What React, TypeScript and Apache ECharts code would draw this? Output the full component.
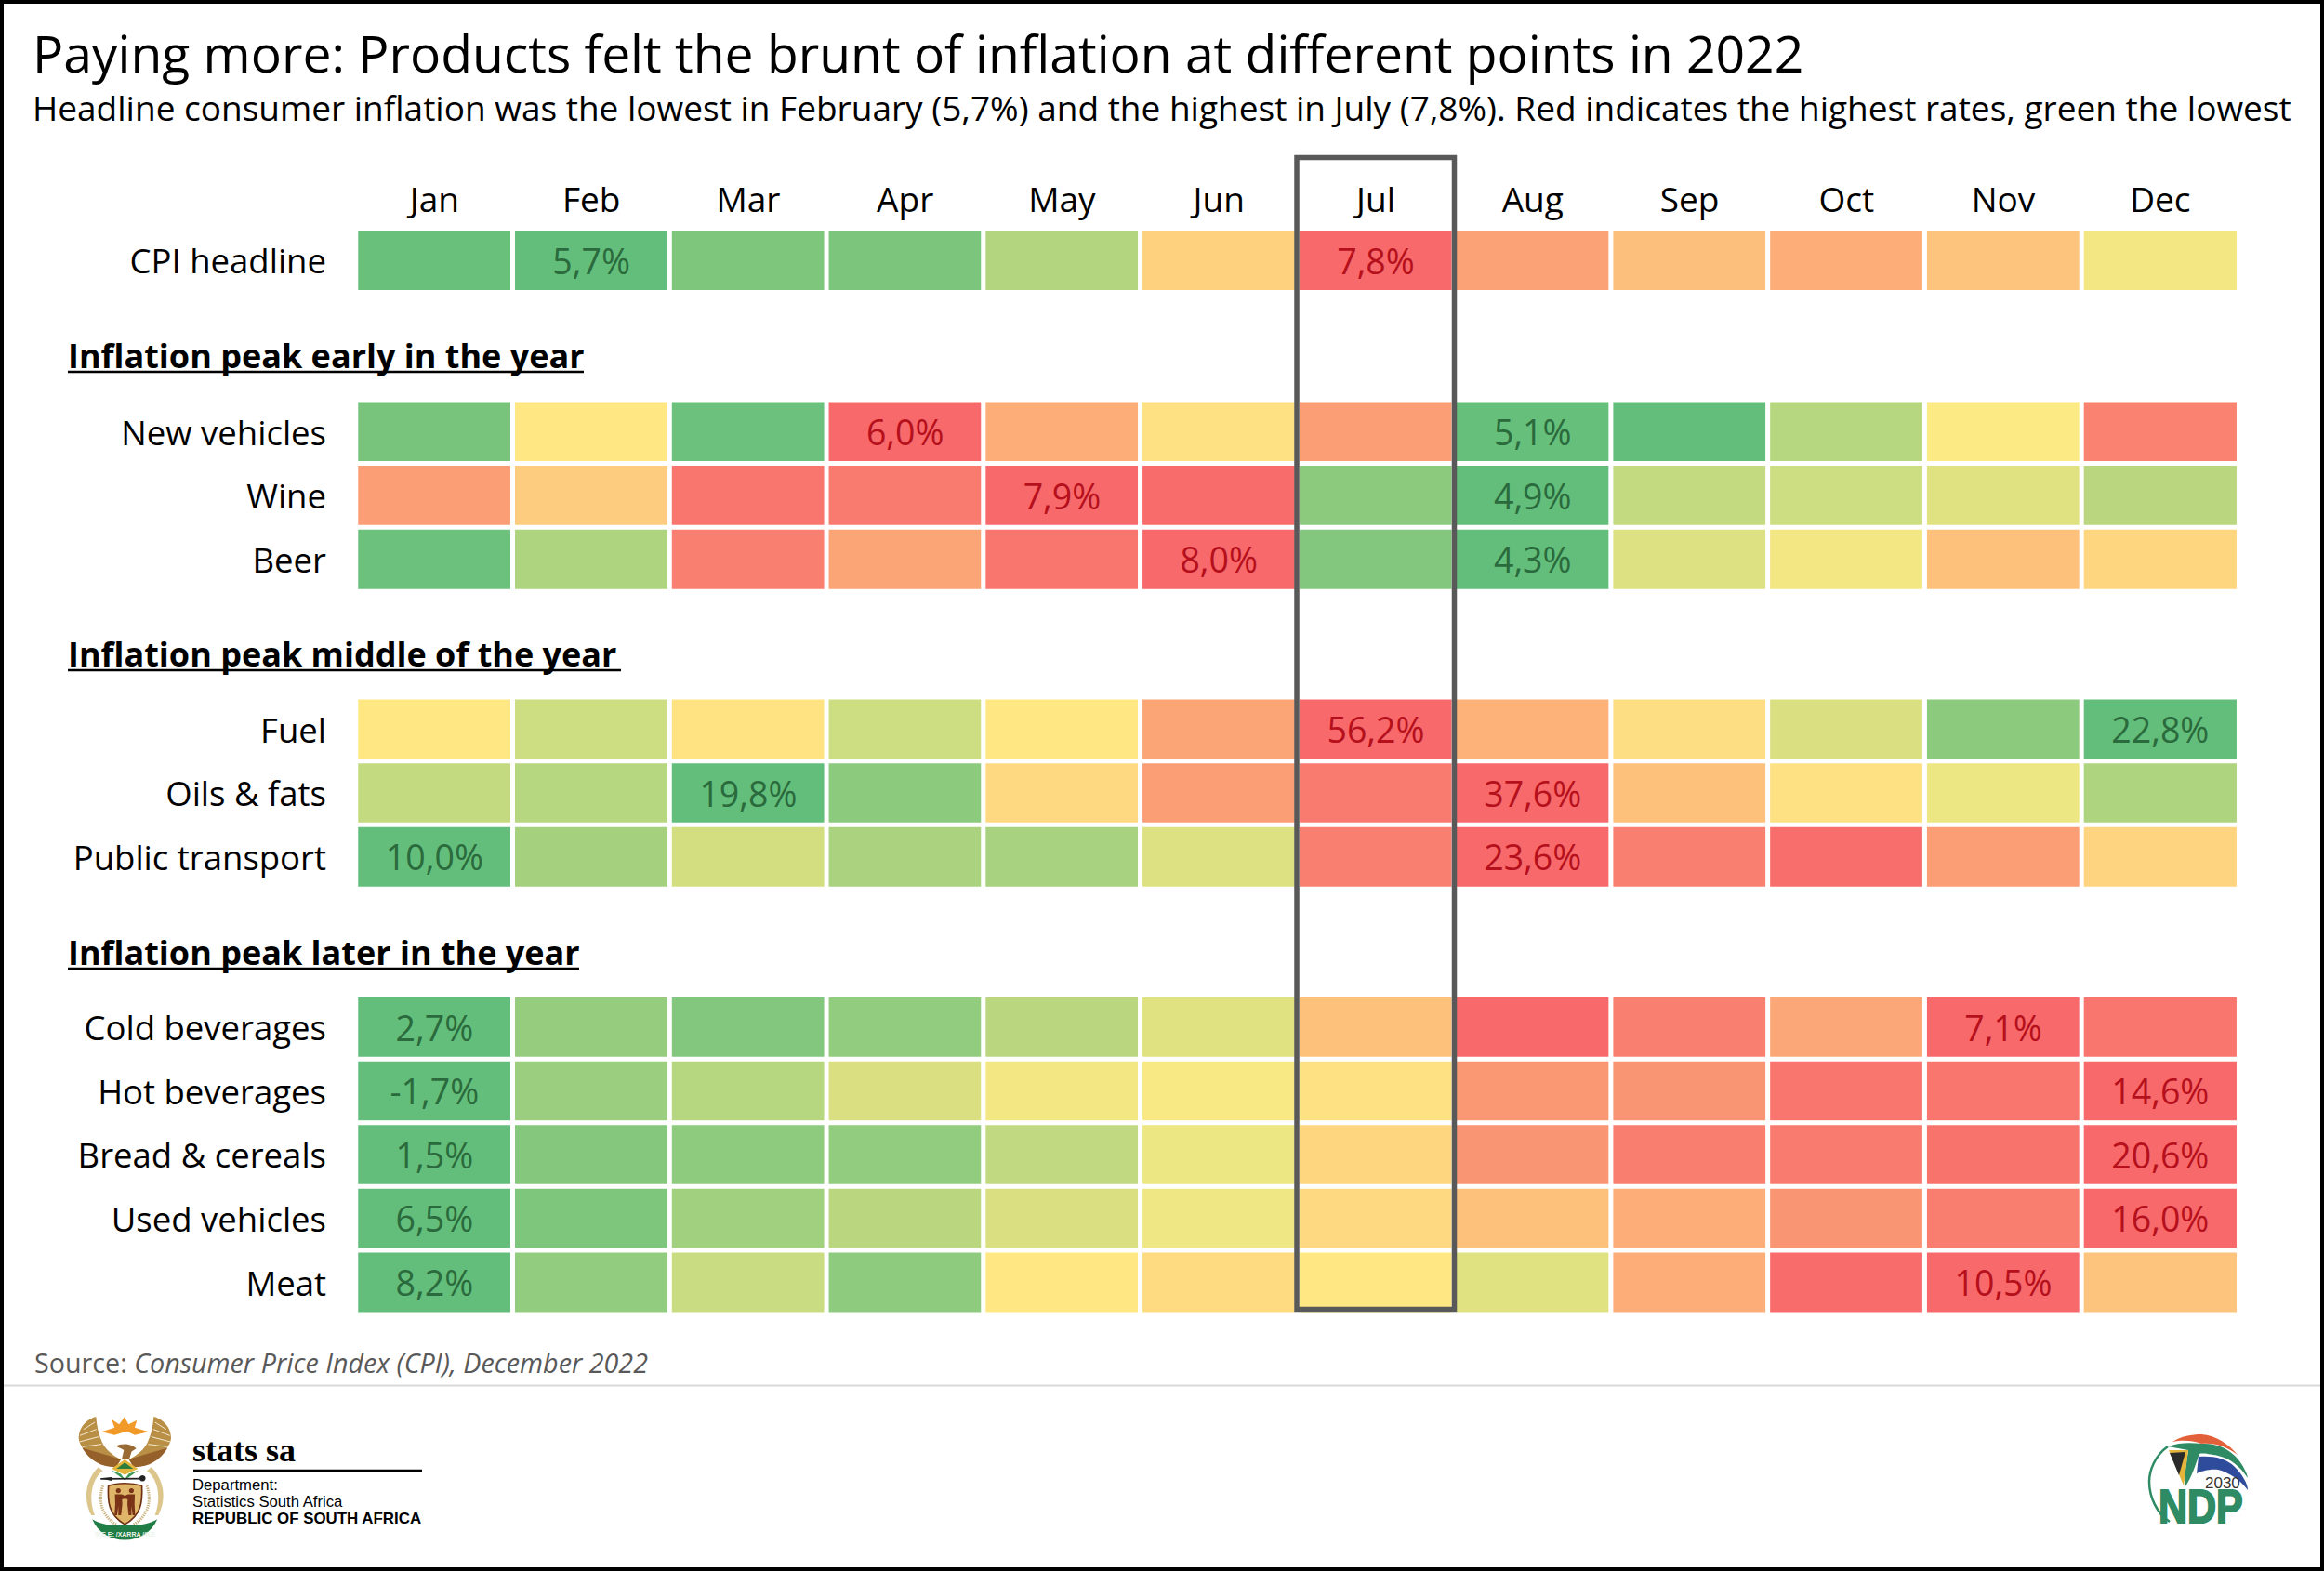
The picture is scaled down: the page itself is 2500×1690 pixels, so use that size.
import React, { useEffect, useRef } from "react";
import * as echarts from "echarts";

const months = ["Jan", "Feb", "Mar", "Apr", "May", "Jun", "Jul", "Aug", "Sep", "Oct", "Nov", "Dec"];

// Colour position of each cell: 0 = lowest of the row (green), 100 = highest (red)
const cpiHeadline = [2, 0, 9, 8, 26, 60, 100, 78, 67, 74, 65, 46];
const newVehicles = [7, 51, 3, 100, 74, 54, 80, 1, 0, 27, 49, 90];
const wine = [80, 62, 95, 93, 100, 99, 13, 0, 31, 34, 40, 28];
const beer = [3, 24, 91, 77, 95, 100, 10, 0, 39, 46, 66, 58];
const fuel = [51, 34, 53, 34, 51, 77, 100, 72, 55, 38, 13, 0];
const oilsFats = [31, 27, 0, 13, 57, 80, 93, 100, 66, 54, 44, 24];
const publicTransport = [0, 21, 36, 23, 22, 39, 91, 100, 91, 98, 80, 59];
const coldBeverages = [0, 16, 10, 15, 28, 40, 66, 100, 91, 76, 100, 95];
const hotBeverages = [0, 18, 27, 38, 46, 48, 54, 82, 83, 95, 95, 100];
const breadCereals = [0, 11, 14, 15, 30, 44, 58, 83, 92, 93, 96, 100];
const usedVehicles = [0, 9, 20, 28, 38, 45, 57, 66, 74, 83, 92, 100];
const meat = [0, 15, 33, 14, 51, 56, 51, 40, 74, 99, 100, 65];

// Printed rates
const cpiHeadlineText = ["", "5,7%", "", "", "", "", "7,8%", "", "", "", "", ""];
const newVehiclesText = ["", "", "", "6,0%", "", "", "", "5,1%", "", "", "", ""];
const wineText = ["", "", "", "", "7,9%", "", "", "4,9%", "", "", "", ""];
const beerText = ["", "", "", "", "", "8,0%", "", "4,3%", "", "", "", ""];
const fuelText = ["", "", "", "", "", "", "56,2%", "", "", "", "", "22,8%"];
const oilsFatsText = ["", "", "19,8%", "", "", "", "", "37,6%", "", "", "", ""];
const publicTransportText = ["10,0%", "", "", "", "", "", "", "23,6%", "", "", "", ""];
const coldBeveragesText = ["2,7%", "", "", "", "", "", "", "", "", "", "7,1%", ""];
const hotBeveragesText = ["-1,7%", "", "", "", "", "", "", "", "", "", "", "14,6%"];
const breadCerealsText = ["1,5%", "", "", "", "", "", "", "", "", "", "", "20,6%"];
const usedVehiclesText = ["6,5%", "", "", "", "", "", "", "", "", "", "", "16,0%"];
const meatText = ["8,2%", "", "", "", "", "", "", "", "", "", "10,5%", ""];

const groups = [
  { rows: ["CPI headline"], heat: [cpiHeadline], text: [cpiHeadlineText], top: 245.7 },
  { rows: ["New vehicles", "Wine", "Beer"], heat: [newVehicles, wine, beer], text: [newVehiclesText, wineText, beerText], top: 430.2 },
  { rows: ["Fuel", "Oils & fats", "Public transport"], heat: [fuel, oilsFats, publicTransport], text: [fuelText, oilsFatsText, publicTransportText], top: 750.3 },
  {
    rows: ["Cold beverages", "Hot beverages", "Bread & cereals", "Used vehicles", "Meat"],
    heat: [coldBeverages, hotBeverages, breadCereals, usedVehicles, meat],
    text: [coldBeveragesText, hotBeveragesText, breadCerealsText, usedVehiclesText, meatText],
    top: 1070.8,
  },
];

const headings = [
  { text: "Inflation peak early in the year", y: 382, end: 628 },
  { text: "Inflation peak middle of the year", y: 703, end: 668 },
  { text: "Inflation peak later in the year", y: 1024, end: 623 },
];

const FONT = '"Open Sans", "Noto Sans", sans-serif';
const ROW_H = 68.6;
const GRID_LEFT = 383;
const GRID_W = 2025.2;

const logoPaths: Record<string, string> = {
  // Coat of arms, drawn at three times its size
  tusk: "M108 190 C70 225 55 290 85 345 L96 345 C75 290 85 230 122 202 Z",
  wing: "M100 27 C70 35 45 60 44 95 C45 120 70 150 115 170 L165 190 L180 165 C150 150 130 130 120 110 C108 85 102 55 100 27 Z",
  wingLow: "M55 128 C80 170 120 192 165 190 L180 165 C140 152 100 142 55 128 Z",
  feathers: "M96 45 L60 68 M101 68 L48 88 M108 92 L47 108 M118 116 L57 124",
  sun: "M118 76 L160 62 L150 35 L175 52 L192 28 L205 52 L232 38 L225 62 L270 76 L225 86 L200 74 L160 86 Z",
  bird: "M165 122 C180 112 215 112 230 130 L215 140 L207 165 L183 165 L190 135 C180 128 170 125 165 122 Z",
  diamond: "M193 165 L235 195 L193 215 L150 195 Z",
  diamondIn: "M193 175 L220 195 L166 195 Z",
  leaves: "M148 200 L193 232 L238 200 L205 212 L193 230 L180 212 Z",
  spearTip: "M113 226 L150 222 L150 234 Z M250 216 A10 10 0 1 0 250.1 216 Z",
  wheat: "M122 250 C105 300 120 350 165 375",
  shield: "M140 250 C170 240 215 240 248 250 C250 300 248 345 193 375 C140 345 137 300 140 250 Z",
  person: "M172 258 A8 8 0 1 0 172.1 258 Z M161 278 L183 278 L206 288 L204 294 L184 290 L185 310 L181 345 L172 345 L172 316 L168 345 L160 345 L162 310 Z",
  band: "M88 358 C115 375 150 380 193 378 C240 380 275 372 298 358 C280 400 240 425 193 425 C145 425 105 400 88 358 Z",
  // NDP logo
  ndpRed: "M2337 1551 C2346 1545 2358 1543 2368 1543 C2384 1544 2398 1554 2407 1565 C2394 1556 2384 1552 2368 1553 C2358 1549 2346 1549 2337 1551 Z",
  ndpGreen: "M2332 1556 C2346 1551 2358 1552 2368 1553 C2384 1552 2396 1558 2404 1566 C2412 1574 2417 1584 2418 1590 C2410 1578 2400 1569 2386 1566 C2376 1564 2368 1563 2366 1564 C2362 1574 2358 1590 2350 1600 C2350 1580 2354 1564 2354 1560 Z",
  ndpBlue: "M2365 1567 C2380 1566 2394 1568 2404 1578 C2412 1586 2418 1596 2418 1603 C2410 1592 2398 1584 2386 1581 C2376 1580 2368 1583 2363 1585 Z",
  ndpTri: "M2333 1560 L2354 1560 L2349 1598 Z",
  ndpTriIn: "M2334 1563 L2351 1562 L2344 1587 Z",
  ndpRing: "M2332 1556 C2318 1566 2312 1582 2312 1594 C2312 1610 2320 1628 2334 1637",
};

Object.entries(logoPaths).forEach(([k, d]) => {
  echarts.graphic.registerShape(k, echarts.graphic.extendPath(d, {}));
});

function shape(type: string, style: Record<string, unknown>) {
  return { type, x: 0, y: 0, z: 20, style };
}

function mirrored(type: string, style: Record<string, unknown>) {
  return [shape(type, style), { type, x: 386, y: 0, scaleX: -1, z: 20, style }];
}

function label(text: string, x: number, y: number, font: string, fill = "#000", textAlign = "left") {
  return { type: "text", z: 20, style: { text, x, y, font, fill, textAlign, textVerticalAlign: "middle" } };
}

function buildOption() {
  const grid = groups.map((g) => ({ left: GRID_LEFT, width: GRID_W, top: g.top, height: g.rows.length * ROW_H }));
  const xAxis = groups.map((_, i) => ({
    type: "category",
    gridIndex: i,
    data: months,
    position: "top",
    show: i === 0,
    axisLine: { show: false },
    axisTick: { show: false },
    splitLine: { show: false },
    axisLabel: { color: "#000", fontFamily: FONT, fontSize: 37, margin: 13.5, interval: 0 },
  }));
  const yAxis = groups.map((g, i) => ({
    type: "category",
    gridIndex: i,
    data: g.rows,
    inverse: true,
    axisLine: { show: false },
    axisTick: { show: false },
    splitLine: { show: false },
    axisLabel: { color: "#000", fontFamily: FONT, fontSize: 36.5, margin: 32, interval: 0 },
  }));
  const series = groups.map((g, i) => ({
    type: "heatmap",
    xAxisIndex: i,
    yAxisIndex: i,
    itemStyle: { borderColor: "#fff", borderWidth: 5 },
    emphasis: { disabled: true },
    label: { show: true, fontFamily: FONT, fontSize: 37.5, formatter: (p: any) => p.data.name || "" },
    data: g.heat.flatMap((row, y) =>
      row.map((v, x) => ({
        name: g.text[y][x],
        value: [x, y, v],
        label: { color: v > 50 ? "#B5101C" : "#2A6A3C" },
      }))
    ),
  }));

  const gold = { fill: "#B98F45" };
  const graphic = [
    { type: "rect", z: 30, shape: { x: 2, y: 2, width: 2496, height: 1686 }, style: { fill: "none", stroke: "#000", lineWidth: 4 } },
    { type: "rect", z: 15, shape: { x: 1395, y: 169.5, width: 169.5, height: 1239 }, style: { fill: "none", stroke: "#595959", lineWidth: 5.5 } },
    { type: "line", z: 10, shape: { x1: 4, y1: 1490.5, x2: 2497, y2: 1490.5 }, style: { stroke: "#D9D9D9", lineWidth: 2 } },
    ...headings.flatMap((h) => [
      label(h.text, 73, h.y, `bold 36px ${FONT}`),
      { type: "line", z: 20, shape: { x1: 73, y1: h.y + 18, x2: h.end, y2: h.y + 18 }, style: { stroke: "#000", lineWidth: 2.5 } },
    ]),
    {
      type: "text",
      z: 20,
      style: {
        text: "Source: {i|Consumer Price Index (CPI), December 2022}",
        x: 37,
        y: 1465,
        fill: "#595959",
        font: `28.7px ${FONT}`,
        textVerticalAlign: "middle",
        rich: { i: { fontStyle: "italic", fontFamily: FONT, fontSize: 28.7, fill: "#595959" } },
      },
    },
    // Coat of arms
    {
      type: "group",
      x: 70,
      y: 1515,
      scaleX: 1 / 3,
      scaleY: 1 / 3,
      children: [
        ...mirrored("tusk", { fill: "#DCC68C" }),
        ...mirrored("wing", gold),
        ...mirrored("wingLow", { fill: "#96602B" }),
        ...mirrored("feathers", { fill: "none", stroke: "#F4E9D0", lineWidth: 3 }),
        shape("sun", { fill: "#F19A2A" }),
        shape("bird", { fill: "#9A6A35" }),
        shape("diamond", { fill: "#E3B53C" }),
        shape("diamondIn", { fill: "#2F7D3A" }),
        shape("leaves", { fill: "#3E9A57" }),
        { type: "line", z: 20, shape: { x1: 115, y1: 228, x2: 255, y2: 227 }, style: { stroke: "#222", lineWidth: 5 } },
        shape("spearTip", { fill: "#222" }),
        ...mirrored("wheat", { fill: "none", stroke: "#C9B27E", lineWidth: 9, lineDash: [4, 3] }),
        shape("shield", { fill: "#DFB56A", stroke: "#6E2F12", lineWidth: 5 }),
        ...mirrored("person", { fill: "#7A3316" }),
        shape("band", { fill: "#1F7D45" }),
      ],
    },
    label("!KE E: /XARRA //KE", 134.3, 1650, "bold 7px \"Liberation Sans\", sans-serif", "#EAF3EA", "center"),
    label("stats sa", 207, 1560, 'bold 36px "Liberation Serif", serif'),
    { type: "line", z: 20, shape: { x1: 208, y1: 1582, x2: 454, y2: 1582 }, style: { stroke: "#000", lineWidth: 2.5 } },
    label("Department:", 207, 1597, '16.7px "Liberation Sans", sans-serif'),
    label("Statistics South Africa", 207, 1615, '16.7px "Liberation Sans", sans-serif'),
    label("REPUBLIC OF SOUTH AFRICA", 207, 1633, 'bold 16.9px "Liberation Sans", sans-serif'),
    // NDP logo
    shape("ndpRed", { fill: "#E2603A" }),
    { type: "ndpRing", x: 0, y: 0, z: 20, style: { fill: "none", stroke: "#2E8B63", lineWidth: 2.5 } },
    shape("ndpGreen", { fill: "#2E8B63" }),
    shape("ndpBlue", { fill: "#2F4B9B" }),
    shape("ndpTri", { fill: "#E5B43A" }),
    shape("ndpTriIn", { fill: "#2B2B2B" }),
    label("2030", 2372, 1595, '17px "Liberation Sans", sans-serif', "#333"),
    {
      type: "text",
      z: 20,
      x: 2322,
      y: 1621,
      scaleX: 0.86,
      style: { text: "NDP", x: 0, y: 0, font: 'bold 50px "Liberation Sans", sans-serif', fill: "#2E8B63", stroke: "#2E8B63", lineWidth: 2, textVerticalAlign: "middle" },
    },
  ];

  return {
    animation: false,
    backgroundColor: "#fff",
    title: [
      { text: "Paying more: Products felt the brunt of inflation at different points in 2022", left: 35, top: 29, padding: 0, textStyle: { color: "#000", fontFamily: FONT, fontWeight: "normal", fontSize: 55.2 } },
      { text: "Headline consumer inflation was the lowest in February (5,7%) and the highest in July (7,8%). Red indicates the highest rates, green the lowest", left: 35, top: 97, padding: 0, textStyle: { color: "#000", fontFamily: FONT, fontWeight: "normal", fontSize: 37 } },
    ],
    tooltip: { show: false },
    visualMap: {
      show: false,
      type: "continuous",
      min: 0,
      max: 100,
      dimension: 2,
      seriesIndex: groups.map((_, i) => i),
      inRange: { color: ["#63BE7B", "#FFEB84", "#F8696B"] },
    },
    grid,
    xAxis,
    yAxis,
    series,
    graphic,
  };
}

export default function App() {
  const ref = useRef<HTMLDivElement>(null);
  useEffect(() => {
    document.body.style.margin = "0";
    const chart = echarts.init(ref.current!, undefined, { renderer: "svg" });
    chart.setOption(buildOption() as any);
    return () => chart.dispose();
  }, []);
  return <div ref={ref} style={{ width: 2500, height: 1690 }} />;
}
